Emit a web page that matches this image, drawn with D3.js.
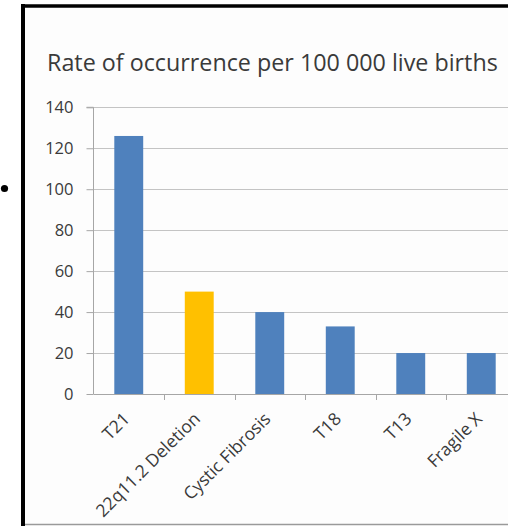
<!DOCTYPE html>
<html>
<head>
<meta charset="utf-8">
<script src="https://cdn.jsdelivr.net/npm/d3@7"></script>
<style>
  html, body { margin: 0; padding: 0; background: #ffffff; }
  svg { display: block; }
  text { font-family: "Open Sans", sans-serif; fill: #404040; }
</style>
</head>
<body>
<script>
// Rate of occurrence of genetic conditions per 100 000 live births
const categories = ["T21", "22q11.2 Deletion", "Cystic Fibrosis", "T18", "T13", "Fragile X"];
const rates = [126, 50, 40, 33, 20, 20];
const highlighted = ["22q11.2 Deletion"];
const yTicks = [0, 20, 40, 60, 80, 100, 120, 140];
const titleText = "Rate of occurrence per 100 000 live births";

const W = 508, H = 526;
const svg = d3.select("body").append("svg").attr("width", W).attr("height", H);

// slide-style panel: heavy black frame on left and top, thin grey line at the bottom
svg.append("rect").attr("x", 23).attr("y", 6).attr("width", W - 23).attr("height", 518)
  .attr("fill", "#fdfdfd");
svg.append("line").attr("x1", 23).attr("x2", 23).attr("y1", 4).attr("y2", H)
  .attr("stroke", "#000").attr("stroke-width", 4);
svg.append("line").attr("x1", 21).attr("x2", W).attr("y1", 6).attr("y2", 6)
  .attr("stroke", "#000").attr("stroke-width", 3.5);
svg.append("line").attr("x1", 25).attr("x2", W).attr("y1", 524.5).attr("y2", 524.5)
  .attr("stroke", "#9a9a9a").attr("stroke-width", 1.5);

// bullet point beside the panel
svg.append("circle").attr("cx", 4.5).attr("cy", 188.5).attr("r", 3.6).attr("fill", "#000");

// title, sized to span the panel width
const title = svg.append("text").attr("x", 47).attr("y", 71)
  .attr("font-size", 20).style("fill", "#3a3a3a")
  .text(titleText);
const tw = title.node().getComputedTextLength();
title.attr("font-size", 20 * 451 / tw);

const x = d3.scaleBand().domain(categories).range([93.5, 516.5]).paddingInner(0.59).paddingOuter(0.295);
const y = d3.scaleLinear().domain([0, 140]).range([394, 107.3]);

// horizontal gridlines
svg.append("g").selectAll("line").data(yTicks.filter(d => d > 0)).join("line")
  .attr("x1", 93.5).attr("x2", W).attr("y1", d => Math.round(y(d)) + 0.5).attr("y2", d => Math.round(y(d)) + 0.5)
  .attr("stroke", "#c4c4c4").attr("stroke-width", 1);

// bars
svg.append("g").selectAll("rect").data(categories).join("rect")
  .attr("x", d => x(d))
  .attr("width", x.bandwidth())
  .attr("y", (d, i) => y(rates[i]))
  .attr("height", (d, i) => y(0) - y(rates[i]))
  .attr("fill", d => highlighted.includes(d) ? "#ffc000" : "#4f81bd");

// y axis
const yAxis = d3.axisLeft(y).tickValues(yTicks).tickSize(7).tickPadding(13).tickFormat(d3.format("d"));
const gy = svg.append("g").attr("transform", "translate(93.5,0)").call(yAxis);
gy.select(".domain").attr("stroke", "#a6a6a6").attr("d", `M-7,${y(140)}H0V${y(0)}`);
gy.selectAll(".tick line").attr("stroke", "#a6a6a6");
gy.selectAll(".tick text").attr("font-size", 16.5).style("fill", "#3a3a3a").style("font-family", "'Open Sans', sans-serif");

// x axis: ticks sit at category boundaries
const step = x.step();
const boundaries = d3.range(0, categories.length + 1).map(i => 93.5 + i * step);
const gx = svg.append("g");
gx.append("line").attr("x1", 93.5).attr("x2", W).attr("y1", y(0) + 0.5).attr("y2", y(0) + 0.5)
  .attr("stroke", "#a6a6a6");
gx.selectAll("line.tk").data(boundaries.slice(1)).join("line").attr("class", "tk")
  .attr("x1", d => Math.round(d) + 0.5).attr("x2", d => Math.round(d) + 0.5)
  .attr("y1", y(0)).attr("y2", y(0) + 6).attr("stroke", "#a6a6a6");

gx.selectAll("text").data(categories).join("text")
  .attr("text-anchor", "end")
  .attr("font-size", 17.5)
  .style("fill", "#3a3a3a")
  .attr("transform", d => `translate(${x(d) + x.bandwidth() / 2 + 2},${y(0) + 26}) rotate(-45)`)
  .text(d => d);
</script>
</body>
</html>
